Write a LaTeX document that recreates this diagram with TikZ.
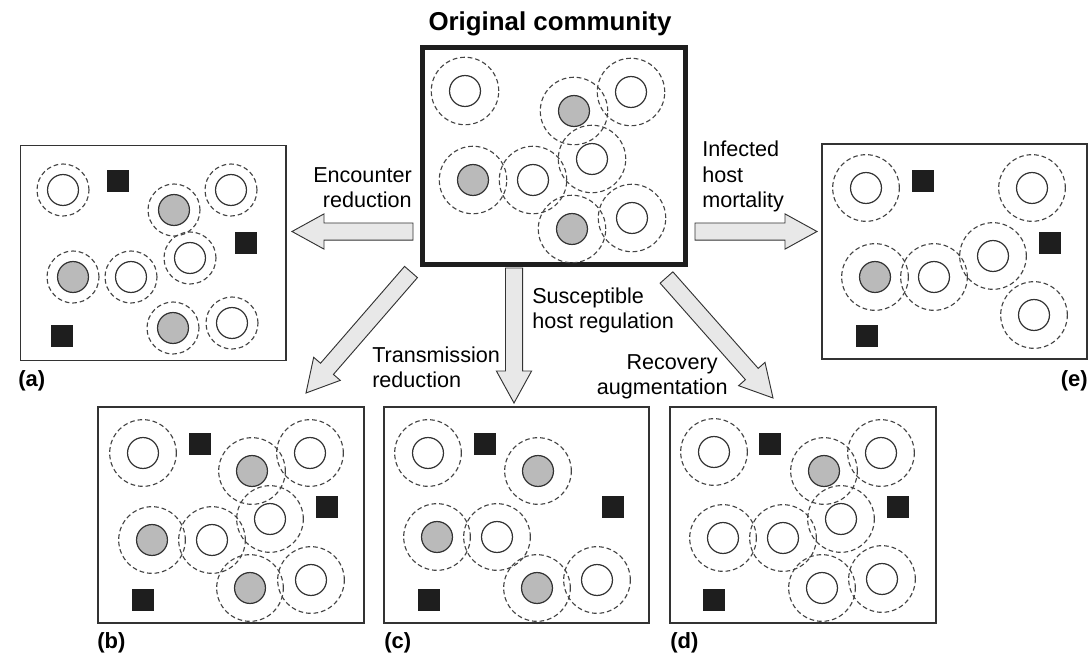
\documentclass[tikz,border=0pt]{standalone}
\usepackage{fontspec}
\setmainfont{Liberation Sans}
\usetikzlibrary{calc,fit}
\definecolor{arrowfill}{HTML}{E8E8E8}
\definecolor{hostgrey}{HTML}{BABABA}
\definecolor{ink}{HTML}{1E1E1E}
\definecolor{zonec}{HTML}{444444}
\definecolor{framec}{HTML}{333333}
\tikzset{
  panel/.style={draw=framec, line width=1.1pt, inner sep=0pt, outer sep=0pt},
  mainpanel/.style={draw=ink, line width=3.8pt, inner sep=0pt, outer sep=0pt},
  zone/.style={draw=zonec, line width=0.85pt, dash pattern=on 3.5pt off 2.2pt},
  susc/.style={draw=framec, line width=0.9pt, fill=white},
  infc/.style={draw=framec, line width=0.9pt, fill=hostgrey},
  pred/.style={fill=ink, draw=none, minimum size=17pt, inner sep=0pt},
  fatarrow/.style={draw=framec, line width=0.7pt, fill=arrowfill, line join=miter},
  lbl/.style={font=\fontsize{16.2}{18.75}\selectfont, inner sep=0pt},
  sublbl/.style={font=\bfseries\fontsize{16.5}{19}\selectfont, inner sep=0pt},
}
\newcommand\fatarr[2]{%
  \coordinate (fb) at ($(#2)!24pt!(#1)$);
  \draw[fatarrow] ($(#1)!6.4pt!90:(#2)$) -- ($(fb)!6.4pt!90:(#2)$) -- ($(fb)!13.2pt!90:(#2)$) -- (#2)
    -- ($(fb)!13.2pt!-90:(#2)$) -- ($(fb)!6.4pt!-90:(#2)$) -- ($(#1)!6.4pt!-90:(#2)$) -- cycle;}
\newcommand\hostS[3]{\draw[zone] (#1,#2) circle[radius=#3]; \draw[susc] (#1,#2) circle[radius=11.6pt];}
\newcommand\hostI[3]{\draw[zone] (#1,#2) circle[radius=#3]; \draw[infc] (#1,#2) circle[radius=11.6pt];}
\begin{document}
\begin{tikzpicture}[x=0.75pt,y=-0.75pt]
\useasboundingbox (0,0) rectangle (1092,656);
% panels
\node[mainpanel, fit={(422.5,47.5) (685.5,264.5)}] (orig) {};
\node[panel, fit={(20.7,145.7) (286,360.7)}] (pa) {};
\node[panel, fit={(98,407) (364,623)}] (pb) {};
\node[panel, fit={(384,407) (649,623)}] (pc) {};
\node[panel, fit={(670,407) (936,623)}] (pd) {};
\node[panel, fit={(822,144) (1087,359)}] (pe) {};
% title
\node[font=\bfseries\fontsize{19.4}{22}\selectfont, anchor=base, inner sep=0pt] (title) at (550,31) {Original community};
% original community
\foreach \x/\y in {465/91,631/92,533/180,592/159,632/218} \hostS{\x}{\y}{25.3pt};
\foreach \x/\y in {574/111,473/180,572/229} \hostI{\x}{\y}{25.3pt};
% (a)
\foreach \x/\y in {63/190,231/190,190/258,131/277,232/323} \hostS{\x}{\y}{19.5pt};
\foreach \x/\y in {174/210,73/277,173/328} \hostI{\x}{\y}{19.5pt};
\foreach \x/\y [count=\i] in {118/181,246/243,62/336} \node[pred] (pa-\i) at (\x,\y) {};
% (b)
\foreach \x/\y in {143/453,310/453,212/540,270/519,311/580} \hostS{\x}{\y}{25pt};
\foreach \x/\y in {252/471,152/540,250/588} \hostI{\x}{\y}{25pt};
\foreach \x/\y [count=\i] in {200/444,327/507,143/600} \node[pred] (pb-\i) at (\x,\y) {};
% (c)
\foreach \x/\y in {428/453,497/537,597/580} \hostS{\x}{\y}{25pt};
\foreach \x/\y in {538/471,437/537,537/588} \hostI{\x}{\y}{25pt};
\foreach \x/\y [count=\i] in {485/444,613/507,429/600} \node[pred] (pc-\i) at (\x,\y) {};
% (d)
\foreach \x/\y in {714/452,881/453,723/538,783/538,841/519,822/588,882/579} \hostS{\x}{\y}{25pt};
\foreach \x/\y in {824/471} \hostI{\x}{\y}{25pt};
\foreach \x/\y [count=\i] in {770/444,898/507,714/600} \node[pred] (pd-\i) at (\x,\y) {};
% (e)
\foreach \x/\y in {866/188,1032/188,934/277,993/256,1034/315} \hostS{\x}{\y}{25pt};
\foreach \x/\y in {875/277} \hostI{\x}{\y}{25pt};
\foreach \x/\y [count=\i] in {923/181,1050/243,867/336} \node[pred] (pe-\i) at (\x,\y) {};
% arrows
\coordinate (encT) at (413,231.5); \coordinate (encP) at (292,231.5);
\coordinate (infT) at (695,231.5); \coordinate (infP) at (817,231.5);
\coordinate (susT) at (514,268);   \coordinate (susP) at (514,403);
\coordinate (traT) at (411,272);   \coordinate (traP) at (306,393);
\coordinate (recT) at (666.5,277.5); \coordinate (recP) at (773,398);
\fatarr{encT}{encP}
\fatarr{infT}{infP}
\fatarr{susT}{susP}
\fatarr{traT}{traP}
\fatarr{recT}{recP}
% arrow labels (base = baseline of last line)
\node[lbl, align=right, anchor=base east] (encL) at (412,208) {Encounter\\reduction};
\node[lbl, align=left, anchor=base west] (infL) at (702,207) {Infected\\host\\mortality};
\node[lbl, align=left, anchor=base west] (susL) at (532,328) {Susceptible\\host regulation};
\node[lbl, align=left, anchor=base west] (traL) at (372,387) {Transmission\\reduction};
\node[lbl, align=right, anchor=base east] (recL) at (728,394) {Recovery\hspace*{7.5pt}\\augmentation};
% panel labels
\node[sublbl, anchor=base west] (la) at (18,386) {(a)};
\node[sublbl, anchor=base west] (lb) at (97,648) {(b)};
\node[sublbl, anchor=base west] (lc) at (384,648) {(c)};
\node[sublbl, anchor=base west] (ld) at (670,648) {(d)};
\node[sublbl, anchor=base east] (le) at (1088,386) {(e)};
\end{tikzpicture}
\end{document}
